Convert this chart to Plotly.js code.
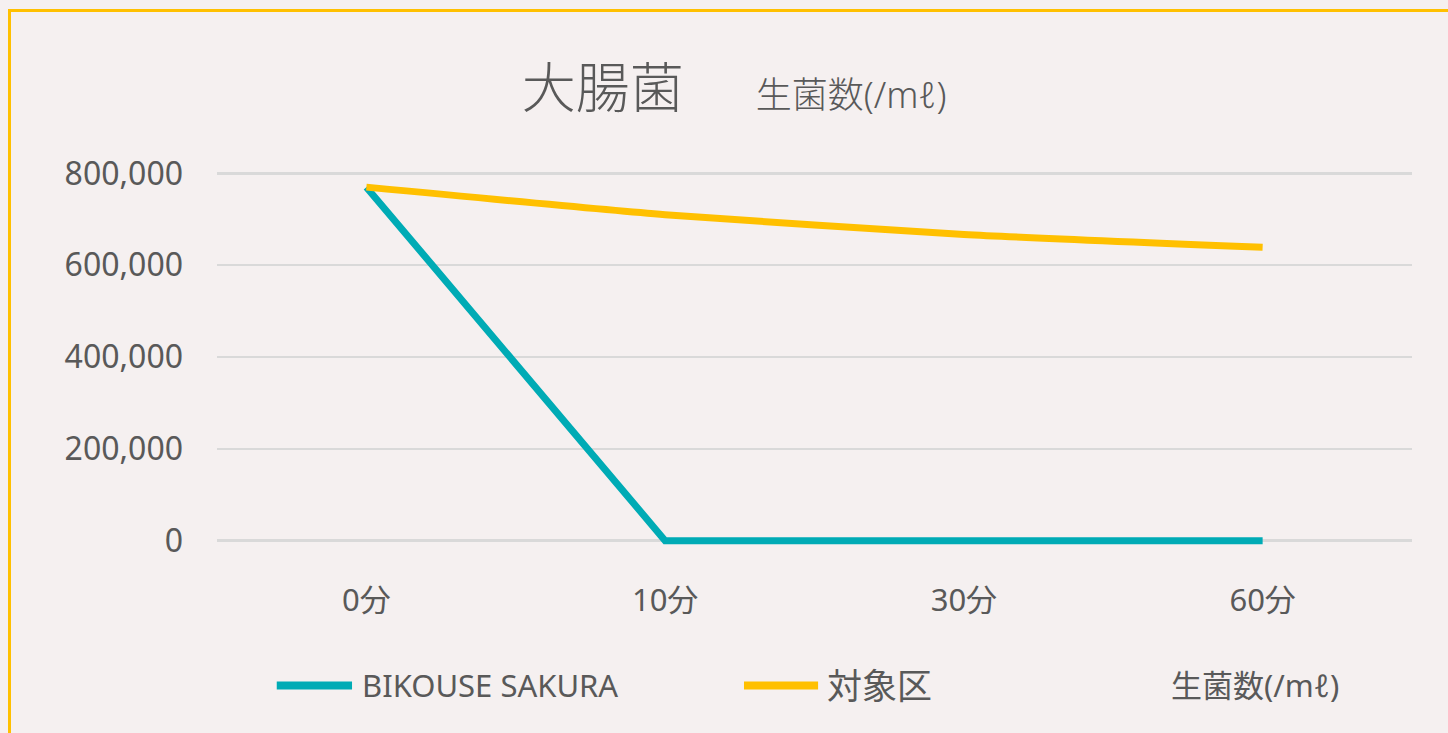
<!DOCTYPE html>
<html>
<head>
<meta charset="utf-8">
<script src="https://cdn.plot.ly/plotly-3.0.1.min.js"></script>
<style>
  html, body { margin: 0; padding: 0; background: #F5F0F0; }
  #wrap { position: relative; width: 1448px; height: 733px; overflow: hidden; }
  #chart { position: absolute; left: 0; top: 0; width: 1448px; height: 733px; }
  #frame { position: absolute; left: 8px; top: 9px; width: 1460px; height: 740px;
           border-left: 3px solid #FFC000; border-top: 3px solid #FFC000; pointer-events: none; }
</style>
</head>
<body>
<div id="wrap">
  <div id="chart"></div>
  <div id="frame"></div>
</div>
<script>
const categories = ['0分', '10分', '30分', '60分'];
const sakuraValues = [770000, 0, 0, 0];
const controlValues = [770000, 710000, 667000, 639000];
const seriesNames = ['BIKOUSE SAKURA', '対象区', '生菌数(/mℓ)'];
const yTicks = [0, 200000, 400000, 600000, 800000];

const FONT = '"Noto Sans", "Noto Sans CJK JP", sans-serif';
const TEXT = '#595959';
const TEAL = '#00ABB5';
const GOLD = '#FFC000';

const traces = [
  { x: categories, y: sakuraValues, type: 'scatter', mode: 'lines', name: seriesNames[0],
    line: { color: TEAL, width: 7 }, showlegend: false, hoverinfo: 'x+y' },
  { x: categories, y: controlValues, type: 'scatter', mode: 'lines', name: seriesNames[1],
    line: { color: GOLD, width: 7, shape: 'spline', smoothing: 0.6 }, showlegend: false, hoverinfo: 'x+y' }
];

// legend drawn in paper coordinates (plot area: 216.5px..1412.5px wide)
const legY = -0.313;
const shapes = [
  { type: 'line', xref: 'paper', yref: 'paper', x0: 0.050, x1: 0.113, y0: legY, y1: legY,
    line: { color: TEAL, width: 8 } },
  { type: 'line', xref: 'paper', yref: 'paper', x0: 0.441, x1: 0.503, y0: legY, y1: legY,
    line: { color: GOLD, width: 8 } }
];
const annotations = [
  { xref: 'paper', yref: 'paper', x: 0.120, y: legY, xanchor: 'left', yanchor: 'middle',
    text: seriesNames[0], showarrow: false, font: { family: FONT, size: 31, color: TEXT } },
  { xref: 'paper', yref: 'paper', x: 0.509, y: legY, xanchor: 'left', yanchor: 'middle',
    text: seriesNames[1], showarrow: false, font: { family: FONT, size: 35, color: TEXT } },
  { xref: 'paper', yref: 'paper', x: 0.797, y: legY, xanchor: 'left', yanchor: 'middle',
    text: seriesNames[2], showarrow: false, font: { family: FONT, size: 31, color: TEXT } }
];

const layout = {
  width: 1448, height: 733,
  paper_bgcolor: 'rgba(0,0,0,0)', plot_bgcolor: 'rgba(0,0,0,0)',
  margin: { l: 216.5, r: 35.5, t: 154.6, b: 173.6, pad: 0 },
  font: { family: FONT, color: TEXT, size: 30 },
  title: {
    text: '大腸菌<span style="font-size:36px">　　生菌数(/mℓ)</span>',
    font: { family: FONT, size: 54, color: TEXT, weight: 300 },
    x: 0.507, xanchor: 'center', y: 0.878, yanchor: 'middle', xref: 'container', yref: 'container'
  },
  xaxis: {
    type: 'category', range: [-0.5, 3.5], showgrid: false, zeroline: false, showline: false,
    ticks: '', tickfont: { family: FONT, size: 31, color: TEXT }, ticklabelstandoff: 20, fixedrange: true
  },
  yaxis: {
    range: [-40000, 840000], tickvals: yTicks, tickformat: ',d', showgrid: true,
    gridcolor: '#D9D9D9', gridwidth: 2.5, zeroline: false, showline: false, ticks: '',
    tickfont: { family: FONT, size: 32, color: TEXT }, ticklabelstandoff: 33, fixedrange: true
  },
  shapes: shapes,
  annotations: annotations,
  showlegend: false
};

Plotly.newPlot('chart', traces, layout, { displayModeBar: false, staticPlot: true });
</script>
</body>
</html>
